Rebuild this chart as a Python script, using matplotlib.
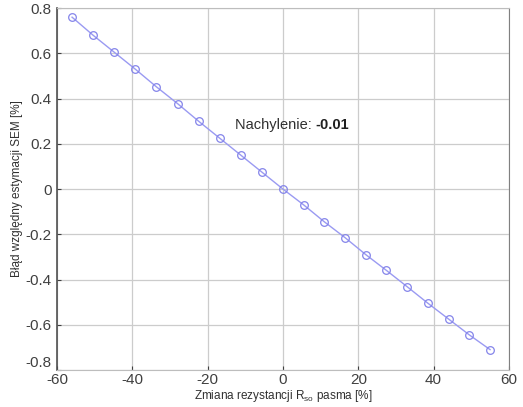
import matplotlib
matplotlib.use("Agg")
import matplotlib.pyplot as plt

x_vals = [-56.0, -50.4, -44.8, -39.2, -33.6, -28.0, -22.4, -16.8, -11.2, -5.6, 0.0,
          5.5, 11.0, 16.5, 22.0, 27.5, 33.0, 38.5, 44.0, 49.5, 55.0]
y_vals = [0.76, 0.68, 0.605, 0.53, 0.452, 0.378, 0.30, 0.225, 0.15, 0.075, 0.0,
          -0.07, -0.145, -0.215, -0.29, -0.36, -0.432, -0.505, -0.575, -0.645, -0.71]
x_ticks = [-60, -40, -20, 0, 20, 40, 60]
y_ticks = [-0.8, -0.6, -0.4, -0.2, 0, 0.2, 0.4, 0.6, 0.8]
y_tick_labels = ["-0.8", "-0.6", "-0.4", "-0.2", "0", "0.2", "0.4", "0.6", "0.8"]
slope_label = "-0.01"

plt.rcParams['font.family'] = ['Liberation Sans', 'DejaVu Sans']

fig = plt.figure(figsize=(5.23, 4.07), dpi=100)
ax = fig.add_axes([0.109, 0.091, 0.864, 0.889])

ax.plot(x_vals, y_vals, color='#9a9af2', lw=1.0, marker='o', ms=5.5,
        mfc='none', mec='#8585ea', mew=0.9, zorder=3)

ax.set_xlim(-60, 60)
ax.set_ylim(-0.8, 0.8)
ax.set_xticks(x_ticks)
ax.set_xticklabels([str(t) for t in x_ticks])
ax.set_yticks(y_ticks)
ax.set_yticklabels(y_tick_labels)
ax.grid(True, color='#cccccc', lw=0.9)
ax.set_axisbelow(True)
ax.tick_params(direction='in', length=3, labelsize=11, colors='#404040')
ax.tick_params(axis='x', pad=2)
ax.tick_params(axis='y', pad=4)

ax.spines['left'].set_color('#505050')
ax.spines['left'].set_linewidth(1.2)
ax.spines['right'].set_color('#808080')
for s in ['top', 'bottom']:
    ax.spines[s].set_color('#bdbdbd')

ax.set_xlabel(r"Zmiana rezystancji R$_{\mathregular{so}}$ pasma [%]", fontsize=8.5,
              color='#303030', labelpad=1)
ax.set_ylabel("Błąd względny estymacji SEM [%]", fontsize=8.5, color='#303030', labelpad=2)

# nudge the lowest y tick label up slightly so it does not collide with the -60 label
for lbl in ax.get_yticklabels():
    if lbl.get_text() == "-0.8":
        lbl.set_verticalalignment('bottom')

t = ax.text(-12.8, 0.285, "Nachylenie: ", fontsize=10.5, color='#303030', va='center', ha='left')
fig.canvas.draw()
bb = t.get_window_extent()
inv = ax.transData.inverted()
x_end = inv.transform((bb.x1, bb.y0))[0]
ax.text(x_end, 0.285, slope_label, fontsize=10.5, color='#202020', fontweight='bold',
        va='center', ha='left')

fig.savefig("out.png", dpi=100, facecolor='white')
